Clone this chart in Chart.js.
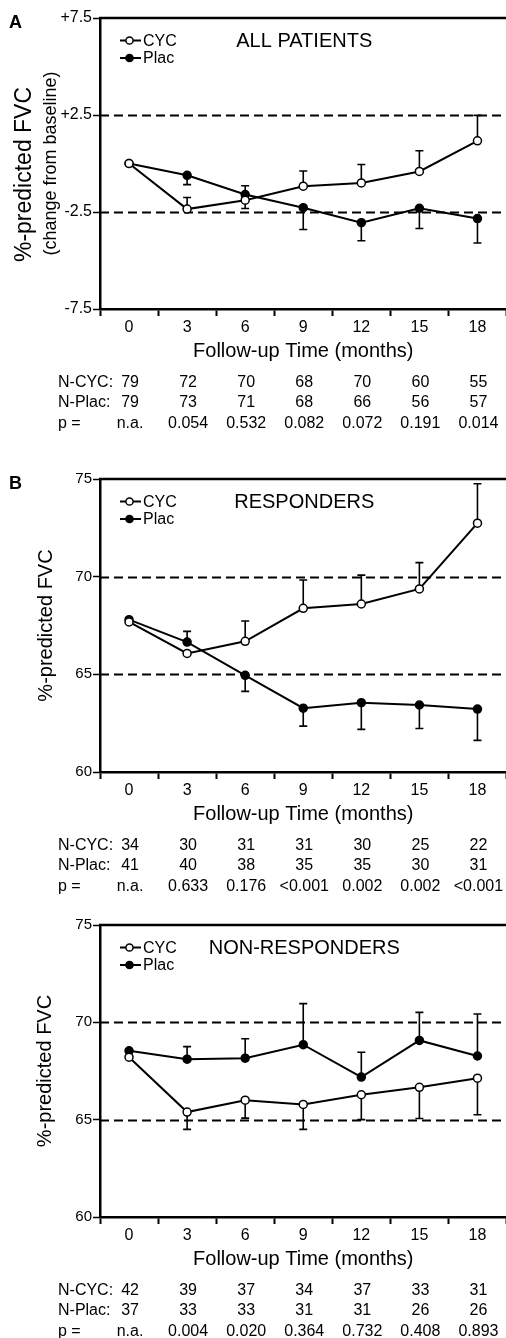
<!DOCTYPE html>
<html>
<head>
<meta charset="utf-8">
<script src="https://cdn.jsdelivr.net/npm/chart.js@4"></script>
<style>
  html, body { margin: 0; padding: 0; background: #fff; overflow: hidden; }
  #wrap { position: relative; width: 506px; height: 1338px; overflow: hidden; }
  canvas { position: absolute; left: 0; }
</style>
</head>
<body>
<div id="wrap">
  <canvas id="chartA" width="512" height="440" style="top:0px"></canvas>
  <canvas id="chartB" width="512" height="460" style="top:440px"></canvas>
  <canvas id="chartC" width="512" height="438" style="top:900px"></canvas>
</div>
<script>
// ==========================
// Data
// ==========================
const months = ["0", "3", "6", "9", "12", "15", "18"];

// Panel A - all patients (change from baseline)
const allCyc = [0, -2.35, -1.89, -1.17, -1.0, -0.41, 1.17];
const allCycBar = [null, -1.75, -2.32, -0.39, -0.05, 0.66, 2.48];
const allPlac = [0, -0.61, -1.6, -2.28, -3.05, -2.31, -2.84];
const allPlacBar = [null, -1.09, -1.15, -3.4, -3.98, -3.35, -4.1];
const allNCyc = [79, 72, 70, 68, 70, 60, 55];
const allNPlac = [79, 73, 71, 68, 66, 56, 57];
const allP = ["n.a.", "0.054", "0.532", "0.082", "0.072", "0.191", "0.014"];
const allTicks = [-7.5, -2.5, 2.5, 7.5];
const allDashed = [-2.5, 2.5];

// Panel B - responders
const respCyc = [67.68, 66.07, 66.69, 68.38, 68.6, 69.37, 72.74];
const respCycBar = [null, null, 67.73, 69.83, 70.08, 70.72, 74.76];
const respPlac = [67.8, 66.65, 64.95, 63.27, 63.55, 63.43, 63.22];
const respPlacBar = [null, 67.2, 64.13, 62.35, 62.18, 62.23, 61.62];
const respNCyc = [34, 30, 31, 31, 30, 25, 22];
const respNPlac = [41, 40, 38, 35, 35, 30, 31];
const respP = ["n.a.", "0.633", "0.176", "<0.001", "0.002", "0.002", "<0.001"];

// Panel C - non-responders
const nonCyc = [68.21, 65.39, 66.0, 65.78, 66.28, 66.66, 67.13];
const nonCycBar = [null, 64.5, 65.08, 64.5, 65.0, 65.06, 65.25];
const nonPlac = [68.54, 68.11, 68.16, 68.85, 67.19, 69.07, 68.27];
const nonPlacBar = [null, 68.75, 69.16, 70.96, 68.46, 70.51, 70.43];
const nonNCyc = [42, 39, 37, 34, 37, 33, 31];
const nonNPlac = [37, 33, 33, 31, 31, 26, 26];
const nonP = ["n.a.", "0.004", "0.020", "0.364", "0.732", "0.408", "0.893"];

const fvcTicks = [60, 65, 70, 75];
const fvcDashed = [65, 70];

const FONT = "'Liberation Sans', Arial, Helvetica, sans-serif";

// ==========================
// Panel builder
// ==========================
function buildPanel(id, cfg) {
  const canvas = document.getElementById(id);
  const ctx = canvas.getContext("2d");

  const extras = {
    id: "extras_" + id,
    beforeDatasetsDraw(chart) {
      const c = chart.ctx;
      const area = chart.chartArea;
      const y = chart.scales.y;
      const x = chart.scales.x;
      c.save();
      // dashed reference lines
      c.strokeStyle = "#000";
      c.lineWidth = 1.8;
      c.setLineDash([9, 5]);
      cfg.dashed.forEach(v => {
        const py = Math.round(y.getPixelForValue(v)) + 0.5;
        c.beginPath();
        c.moveTo(area.left, py);
        c.lineTo(area.right, py);
        c.stroke();
      });
      c.setLineDash([]);
      // top frame line
      c.lineWidth = 2.5;
      c.beginPath();
      c.moveTo(area.left - 1, area.top);
      c.lineTo(area.right, area.top);
      c.stroke();
      // one-sided error bars
      c.lineWidth = 1.6;
      [[cfg.cyc, cfg.cycBar], [cfg.plac, cfg.placBar]].forEach(([vals, bars]) => {
        bars.forEach((b, i) => {
          if (b === null) return;
          const px = x.getPixelForValue(i);
          const y0 = y.getPixelForValue(vals[i]);
          const y1 = y.getPixelForValue(b);
          c.beginPath();
          c.moveTo(px, y0);
          c.lineTo(px, y1);
          c.moveTo(px - 4, y1);
          c.lineTo(px + 4, y1);
          c.stroke();
        });
      });
      c.restore();
    },
    afterDraw(chart) {
      const c = chart.ctx;
      const area = chart.chartArea;
      const x = chart.scales.x;
      const midX = (area.left + area.right) / 2;
      const midY = (area.top + area.bottom) / 2;
      c.save();
      c.fillStyle = "#000";
      c.textBaseline = "middle";

      // panel letter
      if (cfg.letter) {
        c.font = "bold 18px " + FONT;
        c.textAlign = "left";
        c.fillText(cfg.letter, 9, area.top + 5);
      }

      // panel title
      c.font = "20px " + FONT;
      c.textAlign = "center";
      c.fillText(cfg.title, midX + 1, area.top + 23);

      // legend
      const lx = 120, lw = 21, cx = 129.5;
      [["CYC", "#fff", 22.5], ["Plac", "#000", 40]].forEach(([name, fill, dy]) => {
        const ly = area.top + dy;
        c.strokeStyle = "#000";
        c.lineWidth = 2;
        c.beginPath();
        c.moveTo(lx, ly);
        c.lineTo(lx + lw, ly);
        c.stroke();
        c.beginPath();
        c.arc(cx, ly, 3.6, 0, Math.PI * 2);
        c.fillStyle = fill;
        c.fill();
        c.lineWidth = 1.5;
        c.stroke();
        c.fillStyle = "#000";
        c.font = "16px " + FONT;
        c.textAlign = "left";
        c.fillText(name, 143, ly + 1);
      });

      // y-axis title
      cfg.yTitle.forEach(t => {
        c.save();
        c.translate(t.x, midY + t.dy);
        c.rotate(-Math.PI / 2);
        c.font = t.size + "px " + FONT;
        c.textAlign = "center";
        c.fillText(t.text, 0, 0);
        c.restore();
      });

      // x-axis title
      c.font = "20px " + FONT;
      c.textAlign = "center";
      c.fillText("Follow-up Time (months)", midX, area.bottom + 42);

      // N and p table
      c.font = "16px " + FONT;
      const rows = [
        ["N-CYC:", cfg.nCyc, 74],
        ["N-Plac:", cfg.nPlac, 94],
        ["p =", cfg.pVals, 115]
      ];
      rows.forEach(([lab, vals, dy]) => {
        const ry = area.bottom + dy;
        c.textAlign = "left";
        c.fillText(lab, 58, ry);
        c.textAlign = "center";
        vals.forEach((v, i) => {
          c.fillText(String(v), x.getPixelForValue(i) + 1, ry);
        });
      });
      c.restore();
    }
  };

  return new Chart(ctx, {
    type: "line",
    data: {
      labels: months,
      datasets: [
        {
          label: "CYC",
          data: cfg.cyc,
          borderColor: "#000",
          borderWidth: 2,
          pointRadius: 4,
          pointBackgroundColor: "#fff",
          pointBorderColor: "#000",
          pointBorderWidth: 1.5,
          tension: 0,
          clip: false
        },
        {
          label: "Plac",
          data: cfg.plac,
          borderColor: "#000",
          borderWidth: 2,
          pointRadius: 4,
          pointBackgroundColor: "#000",
          pointBorderColor: "#000",
          pointBorderWidth: 1.5,
          tension: 0,
          clip: false
        }
      ]
    },
    options: {
      responsive: false,
      maintainAspectRatio: false,
      animation: false,
      devicePixelRatio: 1,
      layout: { padding: { top: cfg.top, right: 2, left: 0, bottom: cfg.padBottom } },
      plugins: { legend: { display: false }, tooltip: { enabled: false } },
      scales: {
        x: {
          type: "category",
          offset: true,
          grid: {
            offset: true,
            drawOnChartArea: false,
            drawTicks: true,
            tickLength: 7,
            tickWidth: 2,
            tickColor: "#000"
          },
          border: { color: "#000", width: 2.5 },
          ticks: {
            color: "#000",
            font: { family: FONT, size: 16 },
            padding: 2,
            maxRotation: 0,
            autoSkip: false
          },
          afterFit: s => { s.height = 30; }
        },
        y: {
          type: "linear",
          min: cfg.yMin,
          max: cfg.yMax,
          afterBuildTicks: s => { s.ticks = cfg.yTicks.map(v => ({ value: v })); },
          grid: {
            drawOnChartArea: false,
            tickLength: 7,
            tickWidth: 1.5,
            tickColor: "#000"
          },
          border: { color: "#000", width: 2.5 },
          ticks: {
            color: "#000",
            font: { family: FONT, size: cfg.yTickSize },
            padding: 1,
            callback: cfg.yFormat
          },
          afterFit: s => { s.width = 100; }
        }
      }
    },
    plugins: [extras]
  });
}

// ==========================
// Panels
// ==========================
buildPanel("chartA", {
  cyc: allCyc, cycBar: allCycBar, plac: allPlac, placBar: allPlacBar,
  nCyc: allNCyc, nPlac: allNPlac, pVals: allP,
  yMin: -7.5, yMax: 7.5, yTicks: allTicks, dashed: allDashed,
  yTickSize: 16,
  yFormat: v => (v > 0 ? "+" : "") + v.toFixed(1),
  title: "ALL PATIENTS", letter: "A",
  yTitle: [
    { text: "%-predicted FVC", x: 25, dy: 11, size: 23 },
    { text: "(change from baseline)", x: 51, dy: 0, size: 18 }
  ],
  top: 18, padBottom: 440 - 309 - 30
});

buildPanel("chartB", {
  cyc: respCyc, cycBar: respCycBar, plac: respPlac, placBar: respPlacBar,
  nCyc: respNCyc, nPlac: respNPlac, pVals: respP,
  yMin: 60, yMax: 75, yTicks: fvcTicks, dashed: fvcDashed,
  yTickSize: 15,
  yFormat: v => String(v),
  title: "RESPONDERS", letter: "B",
  yTitle: [{ text: "%-predicted FVC", x: 46, dy: 0, size: 20 }],
  top: 39, padBottom: 460 - 332 - 30
});

buildPanel("chartC", {
  cyc: nonCyc, cycBar: nonCycBar, plac: nonPlac, placBar: nonPlacBar,
  nCyc: nonNCyc, nPlac: nonNPlac, pVals: nonP,
  yMin: 60, yMax: 75, yTicks: fvcTicks, dashed: fvcDashed,
  yTickSize: 15,
  yFormat: v => String(v),
  title: "NON-RESPONDERS", letter: null,
  yTitle: [{ text: "%-predicted FVC", x: 45, dy: 0, size: 20 }],
  top: 25, padBottom: 438 - 317 - 30
});
</script>
</body>
</html>
